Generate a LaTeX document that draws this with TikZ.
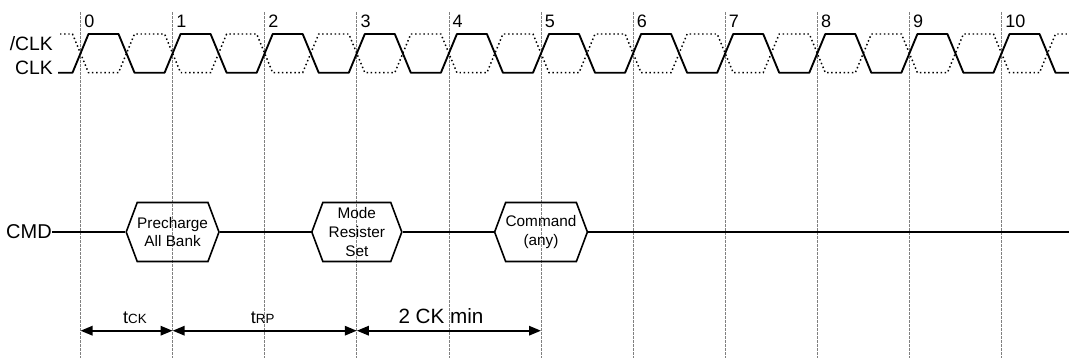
\documentclass[tikz,border=0pt]{standalone}
\usepackage{fontspec}
\setmainfont{Liberation Sans}
\usetikzlibrary{shapes.symbols,arrows.meta}

\begin{document}
\begin{tikzpicture}[x=0.75pt,y=-0.75pt]
\tikzset{
  grid/.style={gray,line width=0.5pt,dash pattern=on 2pt off 1pt},
  clk/.style={line width=1.4pt,line join=round},
  nclk/.style={line width=1.1pt,dotted},
  sig/.style={font=\fontsize{14.5}{14.5}\selectfont,inner sep=0pt,anchor=east},
  num/.style={font=\fontsize{13.5}{13.5}\selectfont,inner sep=0pt,anchor=west},
  cmdbox/.style={draw,line width=1.2pt,shape=signal,signal to=west and east,signal from=nowhere,
    signal pointer angle=139,minimum width=67.5pt,minimum height=44.25pt,inner sep=0pt,
    align=center,font=\fontsize{11.5}{14}\selectfont},
  span/.style={{Triangle[length=9pt,width=7pt]}-{Triangle[length=9pt,width=7pt]},line width=1.5pt},
  lbl/.style={inner sep=0pt,anchor=base},
}
\useasboundingbox (0,0) rectangle (1069,358);
\foreach \k in {0,...,10}{
  \draw[grid] (80.5+92.1*\k,12) -- (80.5+92.1*\k,358);
  \node[num] (n\k) at (84+92.1*\k,21) {\k};
}
\draw[clk] (58,72.7) foreach \k in {0,...,10}{ -- (72.5+92.1*\k,72.7) -- (88.5+92.1*\k,34)
  -- (118.5+92.1*\k,34) -- (134.5+92.1*\k,72.7)} -- (1069,72.7);
\draw[nclk] (60,34) foreach \k in {0,...,10}{ -- (72.5+92.1*\k,34) -- (88.5+92.1*\k,72.7)
  -- (118.5+92.1*\k,72.7) -- (134.5+92.1*\k,34)} -- (1069,34);
\node[sig] (clkb) at (53,44) {/CLK};
\node[sig] (clk) at (53,68) {CLK};
\node[sig,font=\fontsize{15}{15}\selectfont] (cmd) at (52,232) {CMD};
\node[cmdbox] (pre) at (172.6,232) {Precharge\\All Bank};
\node[cmdbox] (mrs) at (356.8,232) {Mode\\Resister\\Set};
\node[cmdbox] (any) at (541,232) {Command\\(any)};
\coordinate (cmdend) at (1069,232);
\draw[line width=1.2pt] (cmd.east) -- (pre.west) (pre.east) -- (mrs.west)
  (mrs.east) -- (any.west) (any.east) -- (cmdend);
\coordinate (t0) at (80.5,330.7);
\coordinate (t1) at (172.6,330.7);
\coordinate (t3) at (356.8,330.7);
\coordinate (t5) at (541,330.7);
\draw[span] (t0) -- (t1);
\draw[span] (t1) -- (t3);
\draw[span] (t3) -- (t5);
\node[lbl] (tck) at (135,323.3) {\fontsize{13.5}{13.5}\selectfont t\fontsize{10}{10}\selectfont CK};
\node[lbl] (trp) at (262.7,323.3) {\fontsize{13.5}{13.5}\selectfont t\fontsize{10}{10}\selectfont RP};
\node[lbl,font=\fontsize{15.5}{15.5}\selectfont] (ckmin) at (441,323.3) {2 CK min};
\end{tikzpicture}
\end{document}
